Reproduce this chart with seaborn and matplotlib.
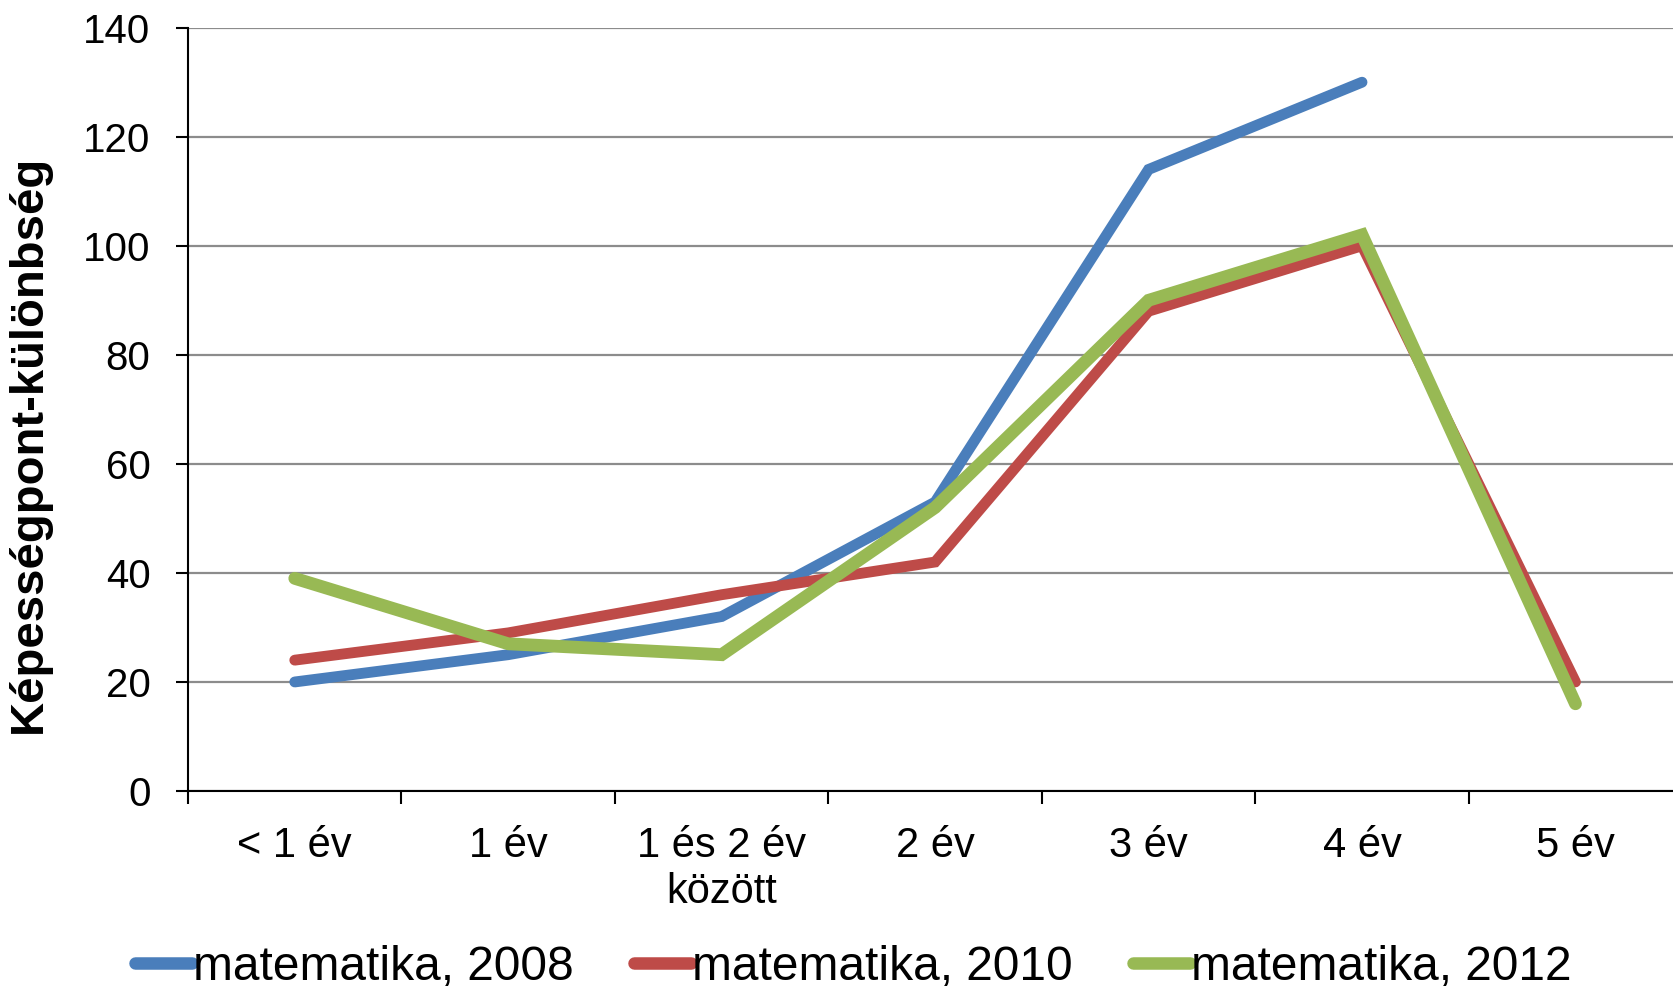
import numpy as np
import pandas as pd
import matplotlib
matplotlib.use("Agg")
import matplotlib.pyplot as plt
import seaborn as sns

categories = ["< 1 év", "1 év", "1 és 2 év\nközött", "2 év", "3 év", "4 év", "5 év"]
series_names = ["matematika, 2008", "matematika, 2010", "matematika, 2012"]
math_2008 = [20, 25, 32, 53, 114, 130, np.nan]
math_2010 = [24, 29, 36, 42, 88, 100, 20]
math_2012 = [39, 27, 25, 52, 90, 102, 16]
y_ticks = [0, 20, 40, 60, 80, 100, 120, 140]
y_label = "Képességpont-különbség"

colors = ["#4A7EBB", "#BE4B48", "#98B954"]
widths = [7.8, 7.8, 9.2]

sns.set_theme(style="white")
plt.rcParams["font.family"] = ["Liberation Sans", "DejaVu Sans"]
plt.rcParams["text.color"] = "black"
plt.rcParams["axes.labelcolor"] = "black"
plt.rcParams["xtick.color"] = "black"
plt.rcParams["ytick.color"] = "black"

rows = []
for name, vals in zip(series_names, [math_2008, math_2010, math_2012]):
    for i, v in enumerate(vals):
        rows.append({"pos": i, "value": v, "series": name})
df = pd.DataFrame(rows)

fig = plt.figure(figsize=(16.73, 9.89), dpi=100)
ax = fig.add_axes([0.1124, 0.2002, 0.8931, 0.7718])

for name, c, w in zip(series_names, colors, widths):
    sub = df[df["series"] == name].dropna()
    sns.lineplot(data=sub, x="pos", y="value", ax=ax, color=c, linewidth=w,
                 label=name, solid_capstyle="round", solid_joinstyle="miter",
                 estimator=None, sort=False)

ax.set_xlim(-0.5, len(categories) - 0.5)
ax.set_ylim(0, 140)
ax.set_yticks(y_ticks)
ax.set_yticklabels([str(t) for t in y_ticks])
ax.set_xticks(range(len(categories)))
ax.set_xticklabels(categories, linespacing=1.2)
ax.set_xticks(np.arange(-0.5, len(categories) + 0.5, 1.0), minor=True)

ax.tick_params(axis="x", which="major", length=0, pad=25, labelsize=30)
ax.tick_params(axis="x", which="minor", length=9, width=1.5, direction="out", bottom=True)
ax.tick_params(axis="y", which="major", length=9, width=1.5, direction="out", left=True, pad=18, labelsize=29)

ax.grid(axis="y", color="#8C8C8C", linewidth=1.6)
ax.grid(axis="x", visible=False)
ax.set_axisbelow(True)
for s in ["top", "right"]:
    ax.spines[s].set_visible(False)
for s in ["left", "bottom"]:
    ax.spines[s].set_color("black")
    ax.spines[s].set_linewidth(1.5)

ax.set_xlabel("")
ax.set_ylabel(y_label, fontsize=34, fontweight="bold")
ax.yaxis.set_label_coords(-0.092, 0.455)

if ax.legend_:
    ax.legend_.remove()
handles, labels = ax.get_legend_handles_labels()
leg = fig.legend(handles, labels, loc="center", bbox_to_anchor=(0.51, 0.022), ncol=3,
                 frameon=False, fontsize=34.5, handlelength=1.2, handletextpad=0.02,
                 columnspacing=1.25, borderaxespad=0)
for h in leg.legend_handles:
    h.set_linewidth(9)
    h.set_solid_capstyle("round")

fig.savefig("out.png", dpi=100)
